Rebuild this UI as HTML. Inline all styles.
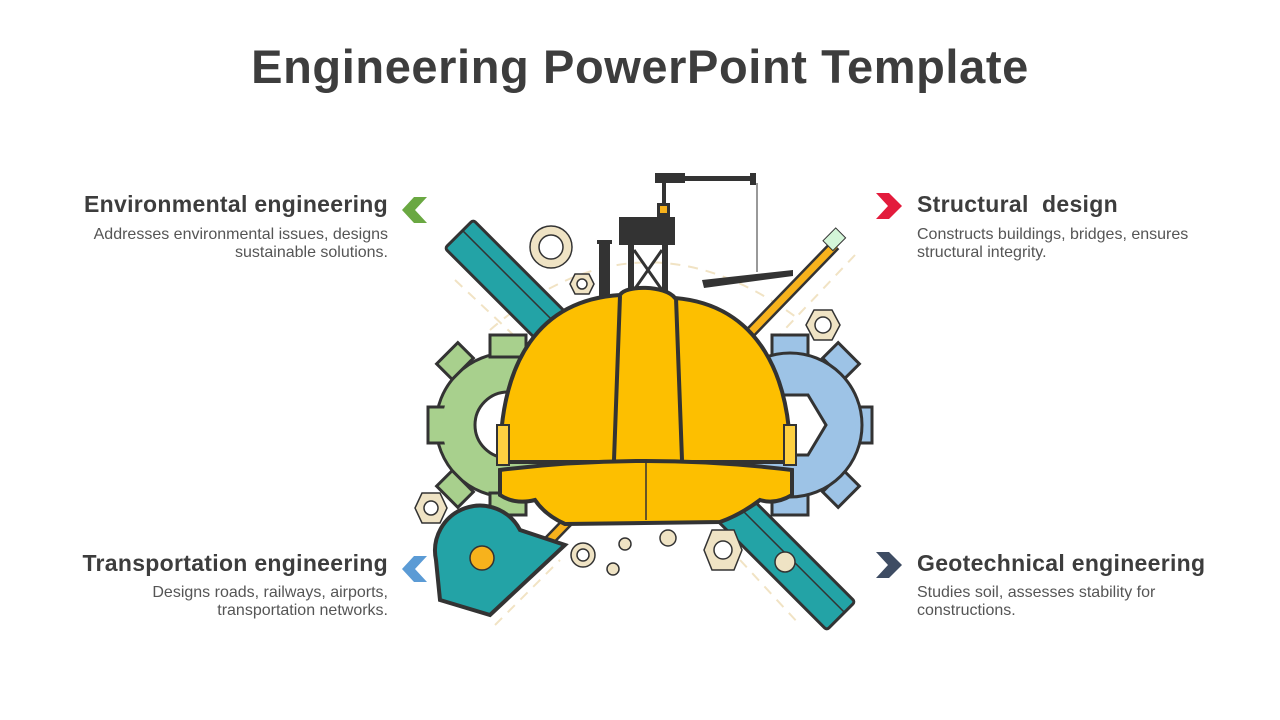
<!DOCTYPE html>
<html><head><meta charset="utf-8"><style>
body{margin:0;width:1280px;height:720px;background:#fff;position:relative;overflow:hidden;font-family:"Liberation Sans",sans-serif;color:#3d3d3d}
.t{position:absolute;left:0;width:1280px;top:39px;text-align:center;font-size:47px;font-weight:bold;letter-spacing:0.6px}
.h{position:absolute;font-size:23px;font-weight:bold;white-space:nowrap;letter-spacing:0.3px}
.d{position:absolute;font-size:16px;color:#555;line-height:18px;white-space:nowrap}
.r{text-align:right}
svg{position:absolute;left:0;top:0}
</style></head><body>
<div class="t">Engineering PowerPoint Template</div>
<div class="h r" style="right:892px;top:191px">Environmental engineering</div>
<div class="d r" style="right:892px;top:226px">Addresses environmental issues, designs<br>sustainable solutions.</div>
<div class="h r" style="right:892px;top:550px">Transportation engineering</div>
<div class="d r" style="right:892px;top:584px">Designs roads, railways, airports,<br>transportation networks.</div>
<div class="h" style="left:917px;top:191px">Structural&nbsp; design</div>
<div class="d" style="left:917px;top:226px">Constructs buildings, bridges, ensures<br>structural integrity.</div>
<div class="h" style="left:917px;top:550px">Geotechnical engineering</div>
<div class="d" style="left:917px;top:584px">Studies soil, assesses stability for<br>constructions.</div>
<svg width="1280" height="720" viewBox="0 0 1280 720">
<polygon points="427,197 414,197 402,210 414,223 427,223 415,210" fill="#6aa842"/>
<polygon points="427,556 414,556 402,569 414,582 427,582 415,569" fill="#5b9bd5"/>
<polygon points="876,193 889,193 902,206 889,219 876,219 888,206" fill="#e31b3c"/>
<polygon points="876,552 889,552 902,565 889,578 876,578 888,565" fill="#3e4c63"/>
<g stroke="#f1e3c4" stroke-width="2" fill="none" stroke-dasharray="10 8">
<path d="M490,330 Q640,200 800,320"/><path d="M455,280 L540,360"/><path d="M495,625 L560,560"/><path d="M740,560 L800,625"/><path d="M855,255 L770,345"/>
</g>
<g transform="rotate(45 650 425)">
<rect x="380" y="405" width="540" height="40" fill="#23a3a6" stroke="#333" stroke-width="3" rx="3"/>
<line x1="380" y1="420" x2="920" y2="420" stroke="#333" stroke-width="1.5"/>
</g>
<line x1="835" y1="245" x2="545" y2="545" stroke="#333" stroke-width="12"/>
<line x1="835" y1="245" x2="545" y2="545" stroke="#f7b21c" stroke-width="7"/>
<rect x="826" y="232" width="18" height="14" fill="#d3f5d8" stroke="#333" transform="rotate(-45 835 240)"/>
<g fill="#a8d08d" stroke="#333" stroke-width="3">
<circle cx="508" cy="425" r="72"/>
<g stroke-width="3"><rect x="490" y="335" width="36" height="22"/><rect x="490" y="493" width="36" height="22"/><rect x="428" y="407" width="22" height="36"/><rect x="440" y="350" width="30" height="22" transform="rotate(-45 455 361)"/><rect x="440" y="478" width="30" height="22" transform="rotate(45 455 489)"/></g>
<circle cx="508" cy="425" r="66" stroke="none"/>
<circle cx="508" cy="425" r="33" fill="#fff"/>
</g>
<g fill="#9dc3e6" stroke="#333" stroke-width="3">
<rect x="772" y="335" width="36" height="22"/><rect x="772" y="493" width="36" height="22"/><rect x="850" y="407" width="22" height="36"/><rect x="826" y="350" width="30" height="22" transform="rotate(45 841 361)"/><rect x="826" y="478" width="30" height="22" transform="rotate(-45 841 489)"/>
<circle cx="790" cy="425" r="72"/>
<circle cx="790" cy="425" r="66" stroke="none"/>
<polygon points="770,395 808,395 826,425 808,455 770,455" fill="#fff"/>
</g>
<path d="M440,600 L436,560 A45,45 0 0 1 520,530 L565,545 L490,615 Z" fill="#23a3a6" stroke="#333" stroke-width="4"/>
<circle cx="482" cy="558" r="12" fill="#f7b21c" stroke="#333" stroke-width="1.5"/>
<g fill="#efe3c4" stroke="#333" stroke-width="1.5">
<circle cx="551" cy="247" r="21"/><circle cx="551" cy="247" r="12" fill="#fff"/>
<polygon points="575,274 589,274 594,284 589,294 575,294 570,284"/><circle cx="582" cy="284" r="5" fill="#fff"/>
<polygon points="814,310 832,310 840,325 832,340 814,340 806,325"/><circle cx="823" cy="325" r="8" fill="#fff"/>
<polygon points="422,493 440,493 447,508 440,523 422,523 415,508"/><circle cx="431" cy="508" r="7" fill="#fff"/>
<polygon points="712,530 734,530 742,550 734,570 712,570 704,550"/><circle cx="723" cy="550" r="9" fill="#fff"/>
<circle cx="583" cy="555" r="12"/><circle cx="583" cy="555" r="6" fill="#fff"/>
<circle cx="625" cy="544" r="6"/><circle cx="613" cy="569" r="6"/><circle cx="668" cy="538" r="8"/><circle cx="785" cy="562" r="10"/>
</g>
<g fill="#333">
<rect x="655" y="173" width="30" height="10"/><rect x="685" y="176" width="68" height="5"/><rect x="750" y="173" width="6" height="12"/>
<rect x="662" y="183" width="4" height="20"/><rect x="657" y="203" width="13" height="14"/>
<rect x="619" y="217" width="56" height="28"/>
<rect x="597" y="240" width="15" height="4"/><rect x="599" y="244" width="11" height="56"/>
<rect x="628" y="245" width="6" height="50"/><rect x="662" y="245" width="6" height="50"/>
<polygon points="702,280 793,270 793,276 704,288"/>
</g>
<rect x="660" y="206" width="7" height="7" fill="#f7b21c"/>
<line x1="757" y1="183" x2="757" y2="272" stroke="#333" stroke-width="1"/>
<path d="M634,250 L662,290 M662,250 L634,290" stroke="#333" stroke-width="3"/>
<path d="M500,462 C500,360 540,300 620,295 C625,285 665,285 675,298 C760,305 792,380 790,462 Z" fill="#fdbf00" stroke="#333" stroke-width="4"/>
<rect x="497" y="425" width="12" height="40" fill="#fdd041" stroke="#333" stroke-width="2"/>
<rect x="784" y="425" width="12" height="40" fill="#fdd041" stroke="#333" stroke-width="2"/>
<path d="M620,296 L614,460 M676,298 L682,460" stroke="#333" stroke-width="4" fill="none"/>
<path d="M500,470 Q645,452 792,470 L792,495 Q775,505 760,500 Q740,515 720,522 L565,524 Q545,515 535,500 Q515,505 500,495 Z" fill="#fdbf00" stroke="#333" stroke-width="4"/>
<path d="M646,460 L646,520" stroke="#333" stroke-width="1.5"/>
</svg>
</body></html>
